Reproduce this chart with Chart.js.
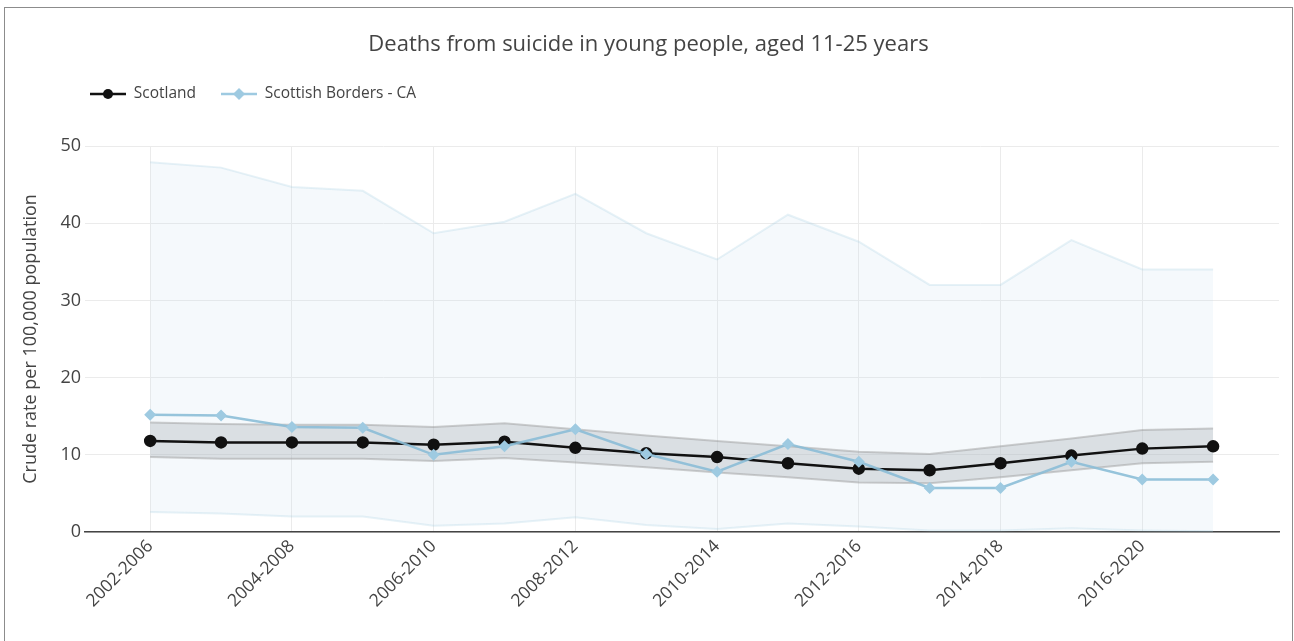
<!DOCTYPE html>
<html>
<head>
<meta charset="utf-8">
<script src="https://cdn.jsdelivr.net/npm/chart.js@4"></script>
<style>
  body { margin: 0; background: #fff; }
  #frame { position: absolute; left: 4px; top: 7px; width: 1287px; height: 640px; border: 1px solid #8c8c8c; pointer-events: none; }
  canvas { position: absolute; left: 0; top: 0; }
</style>
</head>
<body>
<canvas id="chartSuicide" width="1294" height="641"></canvas>
<div id="frame"></div>
<script>
const periods = ['2002-2006', '2003-2007', '2004-2008', '2005-2009', '2006-2010', '2007-2011', '2008-2012', '2009-2013',
  '2010-2014', '2011-2015', '2012-2016', '2013-2017', '2014-2018', '2015-2019', '2016-2020', '2017-2021'];
const scotland = [11.8, 11.6, 11.6, 11.6, 11.3, 11.7, 10.9, 10.2, 9.7, 8.9, 8.2, 8.0, 8.9, 9.9, 10.8, 11.1];
const scotlandLower = [9.7, 9.5, 9.5, 9.5, 9.2, 9.6, 9.0, 8.4, 7.7, 7.1, 6.4, 6.3, 7.1, 8.0, 8.9, 9.1];
const scotlandUpper = [14.2, 14.0, 13.9, 13.9, 13.6, 14.1, 13.3, 12.5, 11.8, 11.1, 10.4, 10.1, 11.1, 12.1, 13.2, 13.4];
const borders = [15.2, 15.1, 13.6, 13.5, 10.0, 11.1, 13.3, 10.1, 7.8, 11.4, 9.1, 5.7, 5.7, 9.1, 6.8, 6.8];
const bordersLower = [2.6, 2.4, 2.0, 2.0, 0.8, 1.1, 1.9, 0.9, 0.4, 1.1, 0.7, 0.2, 0.2, 0.5, 0.2, 0.1];
const bordersUpper = [47.9, 47.2, 44.7, 44.2, 38.7, 40.2, 43.8, 38.7, 35.3, 41.1, 37.6, 32.0, 32.0, 37.8, 34.0, 34.0];

const toXY = arr => arr.map((v, i) => ({ x: i, y: v }));

// little line + marker images for the legend
function legendIcon(color, style) {
  const c = document.createElement('canvas');
  c.width = 36; c.height = 14;
  const g = c.getContext('2d');
  g.strokeStyle = color; g.fillStyle = color; g.lineWidth = 2.5;
  g.beginPath(); g.moveTo(0, 7); g.lineTo(36, 7); g.stroke();
  g.beginPath();
  if (style === 'circle') {
    g.arc(18, 7, 5, 0, Math.PI * 2);
  } else {
    g.moveTo(18, 1); g.lineTo(24, 7); g.lineTo(18, 13); g.lineTo(12, 7); g.closePath();
  }
  g.fill();
  return c;
}
const iconScot = legendIcon('#111111', 'circle');
const iconBorders = legendIcon('#9ecae1', 'diamond');

const font = 'Open Sans';

const ctx = document.getElementById('chartSuicide');

new Chart(ctx, {
  type: 'line',
  data: {
    datasets: [
      {
        label: 'Borders upper',
        data: toXY(bordersUpper),
        borderColor: 'rgba(158, 202, 225, 0.25)',
        backgroundColor: 'rgba(200, 222, 240, 0.18)',
        borderWidth: 2,
        pointRadius: 0,
        fill: '+1',
        order: 5
      },
      {
        label: 'Borders lower',
        data: toXY(bordersLower),
        borderColor: 'rgba(158, 202, 225, 0.25)',
        borderWidth: 2,
        pointRadius: 0,
        fill: false,
        order: 4
      },
      {
        label: 'Scotland upper',
        data: toXY(scotlandUpper),
        borderColor: 'rgba(150, 150, 150, 0.45)',
        backgroundColor: 'rgba(170, 175, 180, 0.35)',
        borderWidth: 2,
        pointRadius: 0,
        fill: '+1',
        order: 3
      },
      {
        label: 'Scotland lower',
        data: toXY(scotlandLower),
        borderColor: 'rgba(150, 150, 150, 0.45)',
        borderWidth: 2,
        pointRadius: 0,
        fill: false,
        order: 2
      },
      {
        label: 'Scotland',
        data: toXY(scotland),
        borderColor: '#111111',
        backgroundColor: '#111111',
        borderWidth: 2.5,
        pointRadius: 5,
        pointStyle: 'circle',
        fill: false,
        order: 1
      },
      {
        label: 'Scottish Borders - CA',
        data: toXY(borders),
        borderColor: 'rgba(140, 190, 215, 0.9)',
        backgroundColor: '#9ecae1',
        borderWidth: 2.5,
        pointRadius: 6,
        pointBorderWidth: 0,
        pointStyle: 'rectRot',
        fill: false,
        order: 0
      }
    ]
  },
  options: {
    responsive: false,
    animation: false,
    layout: { padding: { top: 8, left: 18, right: 15, bottom: 0 } },
    plugins: {
      tooltip: { enabled: false },
      title: {
        display: true,
        text: 'Deaths from suicide in young people, aged 11-25 years',
        color: '#444',
        font: { family: font, size: 22, weight: 'normal' },
        padding: { top: 23.8, bottom: 3 }
      },
      subtitle: {
        display: true,
        text: '',
        position: 'top',
        weight: 500,
        font: { size: 10, lineHeight: 1 },
        padding: { top: 0, bottom: 24.3 }
      },
      legend: {
        display: true,
        align: 'start',
        labels: {
          usePointStyle: true,
          pointStyleWidth: 36,
          padding: 25,
          color: '#444',
          font: { family: font, size: 15.5 },
          generateLabels: () => [
            { text: 'Scotland', pointStyle: iconScot, fillStyle: '#111', strokeStyle: 'transparent', lineWidth: 0, fontColor: '#444', datasetIndex: 4 },
            { text: 'Scottish Borders - CA', pointStyle: iconBorders, fillStyle: '#9ecae1', strokeStyle: 'transparent', lineWidth: 0, fontColor: '#444', datasetIndex: 5 }
          ]
        }
      }
    },
    scales: {
      x: {
        type: 'linear',
        min: -0.92,
        max: 15.93,
        afterFit: s => { s.height = 109; },
        afterBuildTicks: s => {
          s.ticks = periods.map((p, i) => ({ value: i })).filter(t => t.value % 2 === 0);
        },
        ticks: {
          autoSkip: false,
          minRotation: 45,
          maxRotation: 45,
          padding: 4,
          color: '#444',
          font: { family: font, size: 17.5 },
          callback: v => periods[v]
        },
        grid: { color: '#ebebeb', drawTicks: false },
        border: { color: '#444', width: 1.5 }
      },
      y: {
        min: 0,
        max: 50,
        afterFit: s => { s.width = 67; },
        ticks: {
          stepSize: 10,
          padding: 4,
          color: '#444',
          font: { family: font, size: 18 }
        },
        grid: { color: '#ebebeb', drawTicks: false },
        border: { display: false },
        title: {
          display: true,
          text: 'Crude rate per 100,000 population',
          color: '#444',
          font: { family: font, size: 18 },
          padding: { top: 2, bottom: 4 }
        }
      }
    }
  },
  plugins: [{
    id: 'legendShift',
    afterLayout: chart => { chart.legend.left = 65; }
  }]
});
</script>
</body>
</html>
